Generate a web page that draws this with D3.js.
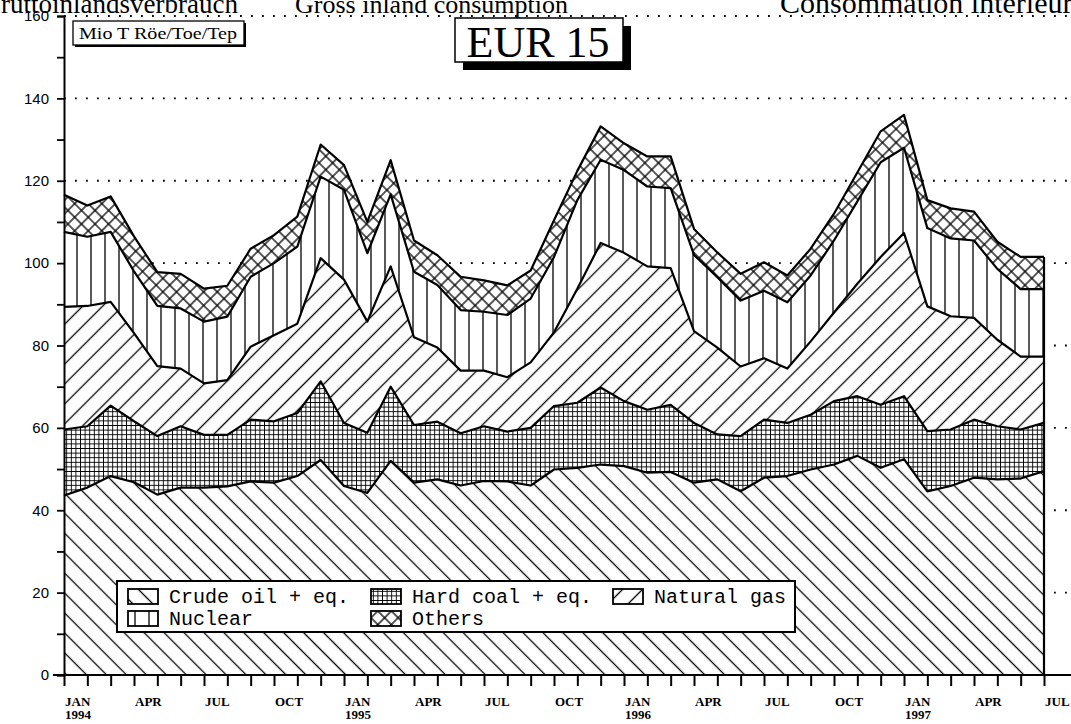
<!DOCTYPE html>
<html>
<head>
<meta charset="utf-8">
<script src="https://cdn.jsdelivr.net/npm/d3@7"></script>
<style>
  body { margin: 0; background: #fff; }
  svg { display: block; }
</style>
</head>
<body>
<div id="chart"></div>
<script>

// monthly data, Mio T Röe/Toe/Tep, EUR 15
var months = ["1994-01","1994-02","1994-03","1994-04","1994-05","1994-06","1994-07","1994-08","1994-09","1994-10","1994-11","1994-12",
              "1995-01","1995-02","1995-03","1995-04","1995-05","1995-06","1995-07","1995-08","1995-09","1995-10","1995-11","1995-12",
              "1996-01","1996-02","1996-03","1996-04","1996-05","1996-06","1996-07","1996-08","1996-09","1996-10","1996-11","1996-12",
              "1997-01","1997-02","1997-03","1997-04","1997-05","1997-06","1997-07"];

var crude   = [43.6,45.5,48.3,46.8,43.8,45.5,45.5,45.8,47.0,46.7,48.3,52.2,
               45.9,44.2,52.0,46.7,47.5,46.0,47.1,47.0,46.0,49.9,50.3,51.1,
               50.7,49.1,49.3,46.7,47.5,44.6,47.9,48.3,49.9,51.1,53.2,50.3,
               52.4,44.6,45.9,47.9,47.5,47.7,49.5];
var coal    = [16.0,14.9,17.1,14.8,14.2,14.9,12.8,12.5,15.0,14.9,15.3,19.1,
               15.3,14.6,18.0,14.0,14.0,12.7,13.3,12.1,14.0,15.4,15.8,18.7,
               15.8,15.3,16.3,14.5,10.9,13.4,14.1,12.9,13.3,15.4,14.5,15.3,
               15.3,14.6,13.7,14.1,12.9,11.9,11.7];
var gas     = [29.8,29.2,25.2,21.4,17.0,14.0,12.5,13.3,17.7,20.9,21.7,29.9,
               34.8,27.0,29.2,21.3,18.0,15.2,13.5,13.2,15.9,17.9,27.7,35.1,
               36.0,34.8,33.2,22.3,21.1,16.9,14.9,13.2,17.8,21.5,27.3,35.9,
               39.6,30.3,27.5,24.7,21.0,17.7,16.1];
var nuclear = [18.2,16.8,17.0,15.0,14.6,14.6,15.0,15.4,17.0,17.5,18.7,19.8,
               21.8,16.6,17.5,15.9,15.2,14.7,14.3,15.1,15.5,18.3,21.5,20.2,
               20.1,19.4,19.4,18.5,17.1,16.0,16.4,16.1,16.0,17.5,20.0,23.0,
               20.7,19.0,18.9,18.8,17.2,16.4,16.4];
var others  = [9.0,7.6,8.6,8.5,8.2,8.4,8.0,7.5,6.8,6.8,7.3,7.8,
               6.0,7.6,8.3,7.6,7.2,8.1,7.6,7.2,6.8,8.9,7.1,8.1,
               6.5,7.3,7.7,6.3,6.0,6.5,6.9,6.5,6.5,6.5,7.0,7.5,
               8.0,6.8,7.3,7.0,6.6,7.8,7.8];

var keys = ["crude", "coal", "gas", "nuclear", "others"];
var legendNames = ["Crude oil + eq.", "Hard coal + eq.", "Natural gas", "Nuclear", "Others"];
var yTicks = [0, 20, 40, 60, 80, 100, 120, 140, 160];
var monthNames = {"01": "JAN", "04": "APR", "07": "JUL", "10": "OCT"};

var w = 1071, h = 724;

var svg = d3.select("#chart").append("svg")
    .attr("width", w)
    .attr("height", h);

var table = months.map(function(m, i) {
  return {month: m, crude: crude[i], coal: coal[i], gas: gas[i], nuclear: nuclear[i], others: others[i]};
});
var series = d3.stack().keys(keys)(table);

var x = d3.scalePoint().domain(months).range([64, 1044]);
var y = d3.scaleLinear().domain([0, 160]).range([675, 16]);

// hatch patterns
var defs = svg.append("defs");
function linePattern(id, size, angle, lines, sw) {
  var p = defs.append("pattern")
      .attr("id", id)
      .attr("patternUnits", "userSpaceOnUse")
      .attr("width", size).attr("height", size)
      .attr("patternTransform", "rotate(" + angle + ")");
  p.append("rect").attr("width", size).attr("height", size).attr("fill", "#fff");
  if (lines.indexOf("v") >= 0)
    p.append("line").attr("x1", size / 2).attr("x2", size / 2).attr("y1", 0).attr("y2", size)
      .attr("stroke", "#000").attr("stroke-width", sw);
  if (lines.indexOf("h") >= 0)
    p.append("line").attr("y1", size / 2).attr("y2", size / 2).attr("x1", 0).attr("x2", size)
      .attr("stroke", "#000").attr("stroke-width", sw);
}
linePattern("p-crude", 14.1, -45, "v", 1.3);
linePattern("p-coal", 4.6, 0, "vh", 0.9);
linePattern("p-gas", 14.1, 45, "v", 1.3);
linePattern("p-nuclear", 14, 0, "v", 1.3);
linePattern("p-others", 9.6, 45, "vh", 1.3);

// dotted grid
svg.append("g").selectAll("line")
  .data(yTicks.filter(function(d) { return d > 0; }))
  .enter().append("line")
    .attr("x1", 64).attr("x2", w)
    .attr("y1", function(d) { return y(d); })
    .attr("y2", function(d) { return y(d); })
    .attr("stroke", "#000")
    .attr("stroke-width", 1.8)
    .attr("stroke-dasharray", "1.8,9.2");

// stacked areas
var area = d3.area()
    .x(function(d) { return x(d.data.month); })
    .y0(function(d) { return y(d[0]); })
    .y1(function(d) { return y(d[1]); });

svg.append("g").selectAll("path")
  .data(series)
  .enter().append("path")
    .attr("d", area)
    .attr("fill", function(d) { return "url(#p-" + d.key + ")"; });

var topLine = d3.line()
    .x(function(d) { return x(d.data.month); })
    .y(function(d) { return y(d[1]); });

svg.append("g").selectAll("path")
  .data(series)
  .enter().append("path")
    .attr("d", topLine)
    .attr("fill", "none")
    .attr("stroke", "#000")
    .attr("stroke-width", 2.2)
    .attr("stroke-linejoin", "round");

var last = months.length - 1;
svg.append("line")
    .attr("x1", x(months[last])).attr("x2", x(months[last]))
    .attr("y1", y(0)).attr("y2", y(series[series.length - 1][last][1]))
    .attr("stroke", "#000").attr("stroke-width", 2.2);

// y axis
var yAxis = d3.axisLeft(y).tickValues(d3.range(0, 161, 10)).tickSize(7)
    .tickFormat(function(d) { return d % 20 === 0 ? d : ""; });
var gy = svg.append("g").attr("transform", "translate(64,0)").call(yAxis);
gy.select(".domain").attr("stroke-width", 2);
gy.selectAll(".tick line").attr("stroke-width", 1.8);
gy.selectAll("text").attr("font-family", "Liberation Sans, Arial").attr("font-size", 15).attr("x", -15);

// x axis
var xAxis = d3.axisBottom(x).tickSize(11).tickFormat("");
var gx = svg.append("g").attr("transform", "translate(0," + y(0) + ")").call(xAxis);
gx.select(".domain").remove();
gx.selectAll(".tick line").attr("stroke-width", 2);
svg.append("line").attr("x1", 53).attr("x2", w).attr("y1", y(0)).attr("y2", y(0))
    .attr("stroke", "#000").attr("stroke-width", 2);

var labelled = months.filter(function(m) { return monthNames[m.slice(5)]; });
var xl = svg.append("g")
    .attr("font-family", "Liberation Serif, Times New Roman")
    .attr("font-weight", "bold")
    .attr("font-size", 13);
xl.selectAll("text.m")
  .data(labelled)
  .enter().append("text")
    .attr("class", "m")
    .attr("x", function(d) { return x(d) + 1; })
    .attr("y", 706)
    .text(function(d) { return monthNames[d.slice(5)]; });
xl.selectAll("text.yr")
  .data(labelled.filter(function(m) { return m.slice(5) === "01"; }))
  .enter().append("text")
    .attr("class", "yr")
    .attr("x", function(d) { return x(d) + 1; })
    .attr("y", 719)
    .text(function(d) { return d.slice(0, 4); });

// legend
var lg = svg.append("g");
lg.append("rect").attr("x", 117).attr("y", 581).attr("width", 678).attr("height", 51)
    .attr("fill", "#fff").attr("stroke", "#000").attr("stroke-width", 2);
var legPos = [[128, 589], [371, 589], [613, 589], [128, 611], [371, 611]];
var li = lg.selectAll("g.item")
  .data(keys)
  .enter().append("g")
    .attr("class", "item")
    .attr("transform", function(d, i) { return "translate(" + legPos[i][0] + "," + legPos[i][1] + ")"; });
li.append("rect").attr("width", 30).attr("height", 15)
    .attr("fill", function(d) { return "url(#p-" + d + ")"; })
    .attr("stroke", "#000").attr("stroke-width", 1.8);
li.append("text").attr("x", 41).attr("y", 14)
    .attr("font-family", "Liberation Mono, Courier New, monospace")
    .attr("font-size", 20)
    .text(function(d, i) { return legendNames[i]; });

// unit box
svg.append("rect").attr("x", 75).attr("y", 23).attr("width", 171).attr("height", 24).attr("fill", "#000");
svg.append("rect").attr("x", 73).attr("y", 21).attr("width", 171).attr("height", 24)
    .attr("fill", "#fff").attr("stroke", "#000").attr("stroke-width", 1.3);
svg.append("text").attr("x", 79).attr("y", 39)
    .attr("font-family", "Liberation Serif, Times New Roman").attr("font-size", 17)
    .attr("textLength", 158).attr("lengthAdjust", "spacingAndGlyphs")
    .text("Mio T Röe/Toe/Tep");

// EUR 15 box
svg.append("rect").attr("x", 463).attr("y", 26).attr("width", 168).attr("height", 44).attr("fill", "#000");
svg.append("rect").attr("x", 455).attr("y", 18).attr("width", 168).attr("height", 44)
    .attr("fill", "#fff").attr("stroke", "#000").attr("stroke-width", 1.5);
svg.append("text").attr("x", 538).attr("y", 57).attr("text-anchor", "middle")
    .attr("font-family", "Liberation Serif, Times New Roman").attr("font-size", 44)
    .text("EUR 15");

// cut title line at the top
var tt = svg.append("g").attr("font-family", "Liberation Serif, Times New Roman");
tt.append("text").attr("x", -17).attr("y", 13).attr("font-size", 27).text("Bruttoinlandsverbrauch");
tt.append("text").attr("x", 295).attr("y", 13).attr("font-size", 26).text("Gross inland consumption");
tt.append("text").attr("x", 780).attr("y", 13).attr("font-size", 30).text("Consommation intérieure brute");

</script>
</body>
</html>
